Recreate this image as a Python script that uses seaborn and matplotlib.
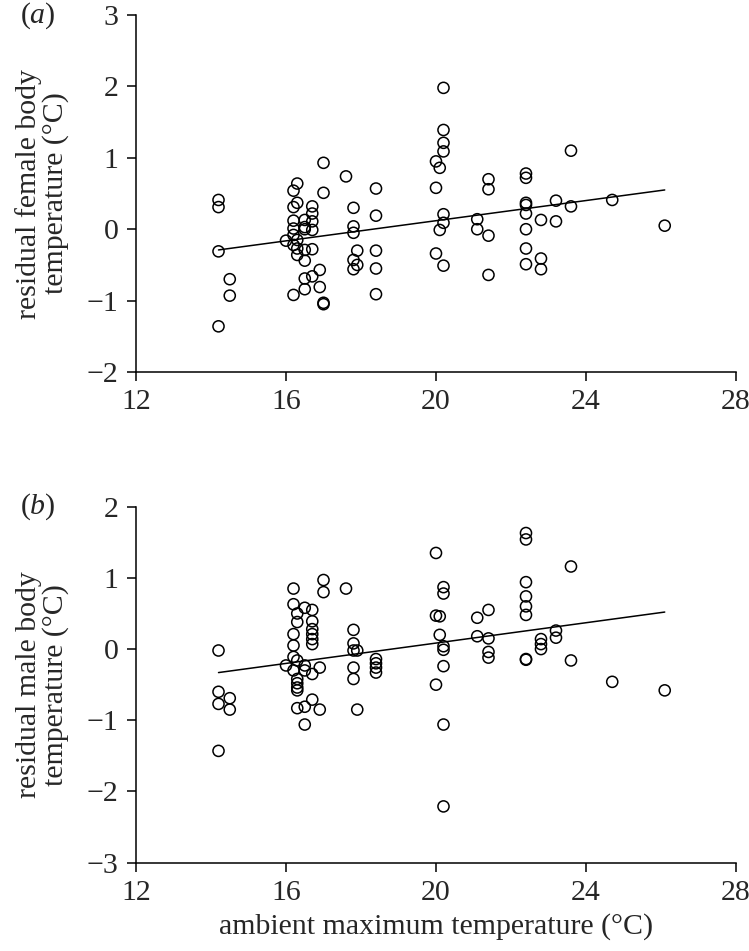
"""Residual body temperature vs ambient maximum temperature, females (a) and males (b)."""

import matplotlib

matplotlib.use("Agg")

import matplotlib.pyplot as plt
import seaborn as sns

sns.set_theme(style="ticks")
plt.rcParams["font.family"] = ["Liberation Serif", "DejaVu Serif"]
plt.rcParams["mathtext.fontset"] = "custom"
plt.rcParams["mathtext.rm"] = "Liberation Serif"
plt.rcParams["mathtext.it"] = "Liberation Serif:italic"

TAM = 21.5  # tamaño de letra común

# ---------------------------------------------------------------- data
female_temp = [
    14.2, 14.2, 14.2, 14.2,
    14.5, 14.5,
    16.0,
    16.2, 16.2, 16.2, 16.2, 16.2, 16.2, 16.2,
    16.3, 16.3, 16.3, 16.3, 16.3,
    16.5, 16.5, 16.5, 16.5, 16.5, 16.5, 16.5,
    16.7, 16.7, 16.7, 16.7, 16.7, 16.7,
    16.9, 16.9,
    17.0, 17.0, 17.0, 17.0,
    17.6,
    17.8, 17.8, 17.8, 17.8, 17.8,
    17.9, 17.9,
    18.4, 18.4, 18.4, 18.4, 18.4,
    20.0, 20.0, 20.0,
    20.1, 20.1,
    20.2, 20.2, 20.2, 20.2, 20.2, 20.2, 20.2,
    21.1, 21.1,
    21.4, 21.4, 21.4, 21.4,
    22.4, 22.4, 22.4, 22.4, 22.4, 22.4, 22.4, 22.4,
    22.8, 22.8, 22.8,
    23.2, 23.2,
    23.6, 23.6,
    24.7,
    26.1,
]
female_resid = [
    0.41, 0.31, -0.31, -1.36,
    -0.70, -0.93,
    -0.16,
    0.54, 0.31, 0.12, 0.01, -0.08, -0.22, -0.92,
    0.64, 0.37, -0.15, -0.27, -0.36,
    0.13, 0.03, 0.00, -0.29, -0.44, -0.69, -0.84,
    0.32, 0.22, 0.11, -0.01, -0.28, -0.66,
    -0.57, -0.81,
    0.93, 0.51, -1.03, -1.05,
    0.74,
    0.30, 0.04, -0.05, -0.43, -0.56,
    -0.30, -0.50,
    0.57, 0.19, -0.30, -0.55, -0.91,
    0.95, 0.58, -0.34,
    0.86, -0.01,
    1.98, 1.39, 1.21, 1.09, 0.21, 0.09, -0.51,
    0.14, 0.00,
    0.70, 0.56, -0.09, -0.64,
    0.78, 0.72, 0.37, 0.34, 0.22, 0.00, -0.27, -0.49,
    0.13, -0.41, -0.56,
    0.40, 0.11,
    1.10, 0.32,
    0.41,
    0.05,
]

male_temp = [
    14.2, 14.2, 14.2, 14.2,
    14.5, 14.5,
    16.0,
    16.2, 16.2, 16.2, 16.2, 16.2, 16.2,
    16.3, 16.3, 16.3, 16.3, 16.3, 16.3, 16.3, 16.3,
    16.5, 16.5, 16.5, 16.5, 16.5,
    16.7, 16.7, 16.7, 16.7, 16.7, 16.7, 16.7, 16.7,
    16.9, 16.9,
    17.0, 17.0,
    17.6,
    17.8, 17.8, 17.8, 17.8, 17.8,
    17.9, 17.9,
    18.4, 18.4, 18.4, 18.4,
    20.0, 20.0, 20.0,
    20.1, 20.1,
    20.2, 20.2, 20.2, 20.2, 20.2, 20.2, 20.2,
    21.1, 21.1,
    21.4, 21.4, 21.4, 21.4,
    22.4, 22.4, 22.4, 22.4, 22.4, 22.4, 22.4, 22.4,
    22.8, 22.8, 22.8,
    23.2, 23.2,
    23.6, 23.6,
    24.7,
    26.1,
]
male_resid = [
    -0.02, -0.60, -0.77, -1.43,
    -0.69, -0.85,
    -0.23,
    0.85, 0.63, 0.21, 0.05, -0.11, -0.30,
    0.50, 0.38, -0.16, -0.42, -0.48, -0.54, -0.58, -0.83,
    0.58, -0.23, -0.30, -0.81, -1.06,
    0.55, 0.39, 0.28, 0.21, 0.14, 0.07, -0.35, -0.71,
    -0.26, -0.85,
    0.97, 0.80,
    0.85,
    0.27, 0.08, -0.02, -0.26, -0.42,
    -0.02, -0.85,
    -0.14, -0.20, -0.26, -0.33,
    1.35, 0.47, -0.50,
    0.46, 0.20,
    0.87, 0.78, 0.04, -0.01, -0.24, -1.06, -2.21,
    0.44, 0.18,
    0.55, 0.15, -0.04, -0.12,
    1.63, 1.54, 0.94, 0.74, 0.60, 0.48, -0.14, -0.15,
    0.14, 0.07, 0.00,
    0.26, 0.16,
    1.16, -0.16,
    -0.46,
    -0.58,
]

# fitted regression lines (end points)
fit_temp = [14.2, 26.1]
female_fit = [-0.29, 0.55]
male_fit = [-0.33, 0.52]

x_ticks = [12, 16, 20, 24, 28]


def dibujar_panel(ax, temp, resid, fit, ylim, ylabel):
    sns.scatterplot(x=temp, y=resid, ax=ax, s=64, facecolor="none",
                    edgecolor="black", linewidth=1.1, zorder=3)
    sns.lineplot(x=fit_temp, y=fit, ax=ax, color="black", linewidth=1.1)
    ax.set_xlim(12, 28)
    ax.set_ylim(*ylim)
    ax.set_xticks(x_ticks)
    valores = list(range(ylim[0], ylim[1] + 1))
    ax.set_yticks(valores)
    ax.set_yticklabels([f"{v}".replace("-", "\u2212") for v in valores])
    ax.tick_params(labelsize=TAM, length=6.5, width=1.1, color="black",
                   direction="out", pad=6)
    for lado in ("top", "right"):
        ax.spines[lado].set_visible(False)
    for lado in ("left", "bottom"):
        ax.spines[lado].set_linewidth(1.1)
        ax.spines[lado].set_color("black")
    ax.set_ylabel(ylabel, fontsize=TAM, linespacing=1.0)
    ax.yaxis.set_label_coords(-0.112, 0.5)


fig = plt.figure(figsize=(7.49, 9.51), dpi=100)
ax_a = fig.add_axes([0.1816, 0.6088, 0.8010, 0.3754])
ax_b = fig.add_axes([0.1816, 0.0929, 0.8010, 0.3743])

dibujar_panel(ax_a, female_temp, female_resid, female_fit, (-2, 3),
              "residual female body\ntemperature (°C)")
dibujar_panel(ax_b, male_temp, male_resid, male_fit, (-3, 2),
              "residual male body\ntemperature (°C)")
ax_b.set_xlabel("ambient maximum temperature (°C)", fontsize=TAM, labelpad=5)

fig.text(0.051, 0.984, r"($\it{a}$)", fontsize=TAM, ha="center", va="center")
fig.text(0.051, 0.467, r"($\it{b}$)", fontsize=TAM, ha="center", va="center")

fig.savefig("out.png", dpi=100)
